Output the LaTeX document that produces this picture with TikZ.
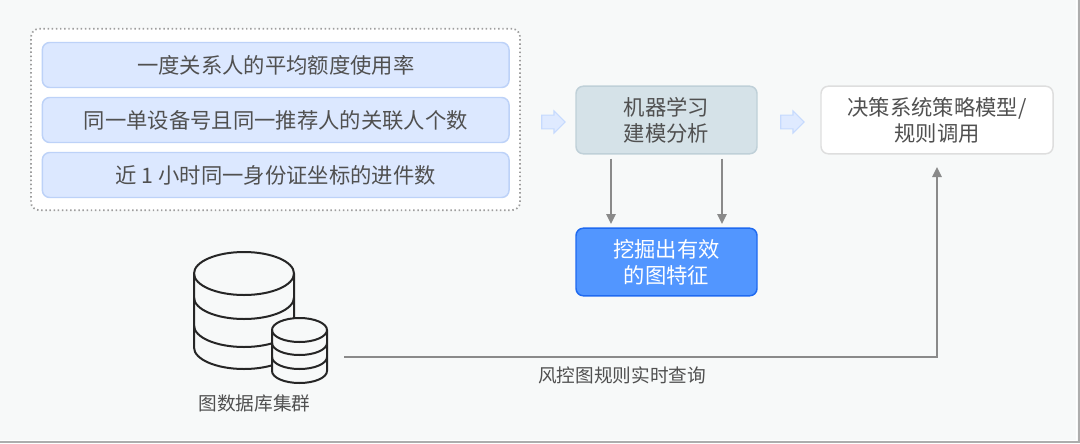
\documentclass[tikz,border=0pt]{standalone}
\usepackage{fontspec}
\setmainfont{Noto Sans CJK SC}
\usetikzlibrary{shapes.arrows,arrows.meta}
\definecolor{bgc}{HTML}{F7F9F9}
\definecolor{txt}{HTML}{505050}
\definecolor{bluef}{HTML}{DCE8FF}
\definecolor{blued}{HTML}{BDD2F8}
\definecolor{mlf}{HTML}{D5E2E8}
\definecolor{mld}{HTML}{BFD0D8}
\definecolor{minef}{HTML}{5296FF}
\definecolor{mined}{HTML}{1F6AF0}
\definecolor{arr}{HTML}{8A8A8A}
\definecolor{blk}{HTML}{DFEAFF}
\definecolor{blkd}{HTML}{C6DAFE}
\newcommand{\upl}[1]{\raisebox{1.4pt}{#1}}
\tikzset{
  x=0.75pt,y=-0.75pt,
  box/.style={rounded corners=5.5pt,line width=1.1pt,align=center,inner sep=0pt,text=txt,
     font=\fontsize{16}{19.5}\selectfont},
  item/.style={box,draw=blued,fill=bluef,minimum width=350pt,minimum height=33.75pt},
  wide/.style={box,minimum width=135.75pt,minimum height=50.7pt},
  flow/.style={-{Triangle[length=7.5pt,width=7pt]},draw=arr,line width=1.4pt},
  blockarrow/.style={single arrow,fill=blk,draw=blkd,line width=0.8pt,
     minimum height=17.5pt,single arrow head extend=3.2pt,single arrow head indent=0pt,inner sep=0pt},
  cyl/.style={draw=black!85,line width=1.5pt,fill=bgc},
  caption/.style={text=txt,font=\fontsize{14}{17}\selectfont,inner sep=0pt},
}
\begin{document}
\begin{tikzpicture}
\useasboundingbox (0,0) rectangle (1080,443);
\fill[bgc] (0,0) rectangle (1080,443);
\draw[white,line width=0.75pt] (1076.5,0) -- (1076.5,440.5) -- (0,440.5);
\draw[black!32,line width=1.6pt] (1078.9,0) -- (1078.9,441.9) -- (0,441.9);
\node[draw=black!38,dash pattern=on 1.1pt off 2pt,line width=1.3pt,fill=white,rounded corners=6pt,minimum width=366.75pt,minimum height=136pt,inner sep=0pt] (group) at (275.5,119.5) {};
\node[item] (a) at (275.7,65) {\upl{一度关系人的平均额度使用率}};
\node[item] (b) at (275.7,120) {\upl{同一单设备号且同一推荐人的关联人个数}};
\node[item] (c) at (275.7,175) {\upl{近 1 小时同一身份证坐标的进件数}};
\node[blockarrow] (ba1) at (550,122) {\rule{0pt}{9.5pt}};
\node[blockarrow] (ba2) at (789,122) {\rule{0pt}{9.5pt}};
\node[wide,draw=mld,fill=mlf] (ml) at (666.5,120) {机器学习\\建模分析};
\node[wide,draw=black!13,fill=white,minimum width=174pt] (dec) at (937,120) {决策系统策略模型/\\规则调用};
\node[wide,draw=mined,fill=minef,text=white] (mine) at (666.5,262) {挖掘出有效\\的图特征};
\coordinate (ml1) at (611,158.5);
\coordinate (ml2) at (722,158.5);
\coordinate (mi1) at (611,224);
\coordinate (mi2) at (722,224);
\draw[flow] (ml1) -- (mi1);
\draw[flow] (ml2) -- (mi2);
% big cylinder
\draw[cyl] (194,273.5) -- (194,347.5) arc[start angle=180,end angle=0,x radius=50,y radius=21.5] -- (294,273.5) arc[start angle=0,end angle=-180,x radius=50,y radius=21.5];
\draw[cyl,fill=none] (194,273.5) arc[start angle=180,end angle=0,x radius=50,y radius=21.5];
\draw[cyl,fill=none] (194,297.5) arc[start angle=180,end angle=0,x radius=50,y radius=21.5];
\draw[cyl,fill=none] (194,325.5) arc[start angle=180,end angle=0,x radius=50,y radius=21.5];
% small cylinder
\draw[cyl] (272,330) -- (272,371) arc[start angle=180,end angle=0,x radius=27.5,y radius=12] -- (327,330) arc[start angle=0,end angle=-180,x radius=27.5,y radius=12];
\draw[cyl,fill=none] (272,330) arc[start angle=180,end angle=0,x radius=27.5,y radius=12];
\draw[cyl,fill=none] (272,343) arc[start angle=180,end angle=0,x radius=27.5,y radius=12];
\draw[cyl,fill=none] (272,357) arc[start angle=180,end angle=0,x radius=27.5,y radius=12];
\node[caption] (dbl) at (254.5,403) {图数据库集群};
\coordinate (dbout) at (344,357);
\coordinate (up) at (937,167);
\draw[flow] (dbout) -| (up);
\node[caption] (q) at (622,375) {风控图规则实时查询};
\end{tikzpicture}
\end{document}
